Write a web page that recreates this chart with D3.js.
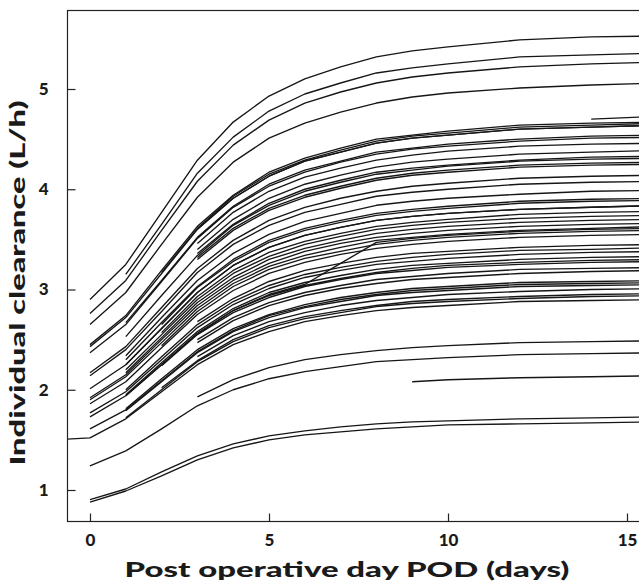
<!DOCTYPE html>
<html>
<head>
<meta charset="utf-8">
<script src="https://cdn.jsdelivr.net/npm/d3@7"></script>
<style>
  html, body { margin: 0; padding: 0; background: #fff; }
  svg { display: block; }
  text { font-family: Lato, "Open Sans", "DejaVu Sans", sans-serif; font-weight: 900; fill: #1a1a1a; }
</style>
</head>
<body>
<svg id="chart" width="639" height="584"></svg>
<script>
// Observation days (POD) shared by every subject profile
const days = [-1, 0, 1, 2, 3, 4, 5, 6, 7, 8, 9, 10, 12, 14, 16];

// Individual clearance (L/h), each row starts at the subject's first observed day
const fromDayMinus1 = [
  [1.50, 1.52, 1.71, 1.98, 2.25, 2.45, 2.58, 2.68, 2.74, 2.79, 2.82, 2.84, 2.88, 2.89, 2.90]
];

const fromDay0 = [
  [2.90, 3.25, 3.77, 4.29, 4.67, 4.93, 5.10, 5.22, 5.32, 5.38, 5.42, 5.49, 5.52, 5.53],
  [2.76, 3.09, 3.59, 4.08, 4.44, 4.69, 4.86, 4.97, 5.06, 5.12, 5.16, 5.22, 5.25, 5.27],
  [2.65, 2.97, 3.45, 3.92, 4.27, 4.51, 4.66, 4.77, 4.86, 4.92, 4.96, 5.01, 5.04, 5.06],
  [2.45, 2.74, 3.19, 3.63, 3.94, 4.17, 4.31, 4.41, 4.50, 4.54, 4.58, 4.64, 4.66, 4.67],
  [2.43, 2.72, 3.16, 3.60, 3.91, 4.13, 4.28, 4.37, 4.46, 4.51, 4.54, 4.60, 4.62, 4.64],
  [2.37, 2.65, 3.08, 3.51, 3.82, 4.03, 4.17, 4.27, 4.35, 4.40, 4.43, 4.48, 4.51, 4.52],
  [2.17, 2.43, 2.82, 3.21, 3.49, 3.69, 3.82, 3.91, 3.98, 4.03, 4.06, 4.11, 4.13, 4.14],
  [2.14, 2.40, 2.78, 3.17, 3.45, 3.64, 3.77, 3.85, 3.93, 3.97, 4.00, 4.05, 4.07, 4.08],
  [2.01, 2.25, 2.61, 2.97, 3.24, 3.42, 3.54, 3.62, 3.69, 3.73, 3.76, 3.80, 3.82, 3.84],
  [1.92, 2.15, 2.50, 2.84, 3.09, 3.26, 3.38, 3.46, 3.52, 3.56, 3.59, 3.63, 3.65, 3.66],
  [1.90, 2.13, 2.47, 2.81, 3.06, 3.23, 3.34, 3.42, 3.49, 3.52, 3.55, 3.59, 3.61, 3.63],
  [1.86, 2.08, 2.42, 2.75, 2.99, 3.16, 3.27, 3.35, 3.41, 3.45, 3.48, 3.52, 3.54, 3.55],
  [1.77, 1.98, 2.30, 2.62, 2.85, 3.01, 3.12, 3.19, 3.25, 3.28, 3.31, 3.35, 3.37, 3.38],
  [1.73, 1.94, 2.25, 2.56, 2.79, 2.94, 3.04, 3.11, 3.17, 3.21, 3.24, 3.27, 3.29, 3.30],
  [1.61, 1.80, 2.09, 2.38, 2.59, 2.74, 2.83, 2.90, 2.95, 2.99, 3.01, 3.05, 3.06, 3.07],
  [1.24, 1.39, 1.61, 1.84, 2.00, 2.11, 2.18, 2.23, 2.28, 2.30, 2.32, 2.35, 2.36, 2.37],
  [0.905, 1.01, 1.18, 1.34, 1.46, 1.54, 1.59, 1.63, 1.66, 1.68, 1.69, 1.71, 1.72, 1.73],
  [0.88, 0.99, 1.14, 1.30, 1.42, 1.50, 1.55, 1.58, 1.61, 1.63, 1.65, 1.66, 1.67, 1.68]
];

const fromDay1 = [
  [3.15, 3.65, 4.16, 4.52, 4.78, 4.95, 5.06, 5.16, 5.21, 5.25, 5.32, 5.34, 5.36],
  [2.67, 3.09, 3.52, 3.83, 4.05, 4.19, 4.28, 4.37, 4.41, 4.45, 4.50, 4.53, 4.54],
  [2.53, 2.94, 3.34, 3.64, 3.84, 3.98, 4.07, 4.15, 4.19, 4.23, 4.28, 4.30, 4.31],
  [2.34, 2.72, 3.09, 3.36, 3.55, 3.68, 3.76, 3.84, 3.88, 3.91, 3.95, 3.98, 3.99],
  [2.30, 2.67, 3.03, 3.30, 3.49, 3.61, 3.69, 3.76, 3.80, 3.83, 3.88, 3.90, 3.91],
  [2.25, 2.61, 2.97, 3.24, 3.42, 3.54, 3.62, 3.69, 3.73, 3.76, 3.80, 3.82, 3.84],
  [2.20, 2.55, 2.90, 3.16, 3.33, 3.45, 3.53, 3.60, 3.64, 3.67, 3.71, 3.73, 3.74],
  [2.17, 2.52, 2.87, 3.12, 3.30, 3.41, 3.49, 3.56, 3.60, 3.63, 3.67, 3.69, 3.70],
  [2.00, 2.33, 2.65, 2.88, 3.04, 3.15, 3.22, 3.28, 3.32, 3.35, 3.39, 3.40, 3.42],
  [1.95, 2.27, 2.58, 2.81, 2.97, 3.07, 3.14, 3.20, 3.24, 3.26, 3.30, 3.32, 3.33],
  [1.81, 2.11, 2.40, 2.61, 2.75, 2.85, 2.92, 2.97, 3.01, 3.03, 3.07, 3.08, 3.09],
  [1.79, 2.08, 2.37, 2.58, 2.72, 2.82, 2.88, 2.94, 2.97, 2.99, 3.03, 3.04, 3.05],
  [1.72, 2.00, 2.28, 2.48, 2.62, 2.71, 2.77, 2.83, 2.86, 2.88, 2.91, 2.93, 2.94],
  [1.94, 2.25, 2.56, 2.79, 2.95, 3.05, 3.26, 3.47, 3.51, 3.54, 3.58, 3.60, 3.61]
];

const fromDay2 = [
  [3.17, 3.61, 3.93, 4.15, 4.29, 4.39, 4.48, 4.53, 4.56, 4.62, 4.64, 4.66],
  [2.65, 3.02, 3.28, 3.47, 3.59, 3.67, 3.74, 3.78, 3.81, 3.86, 3.88, 3.89],
  [2.57, 2.93, 3.19, 3.37, 3.48, 3.56, 3.63, 3.67, 3.70, 3.75, 3.77, 3.78],
  [2.44, 2.78, 3.03, 3.20, 3.31, 3.38, 3.45, 3.49, 3.52, 3.56, 3.58, 3.59],
  [2.24, 2.55, 2.77, 2.92, 3.03, 3.10, 3.16, 3.19, 3.22, 3.25, 3.27, 3.28],
  [2.02, 2.29, 2.50, 2.64, 2.73, 2.79, 2.84, 2.88, 2.90, 2.93, 2.95, 2.96]
];

const fromDay3 = [
  [3.60, 3.91, 4.13, 4.28, 4.37, 4.46, 4.51, 4.54, 4.60, 4.62, 4.64],
  [3.46, 3.77, 3.98, 4.12, 4.21, 4.29, 4.34, 4.38, 4.43, 4.45, 4.46],
  [3.40, 3.70, 3.91, 4.05, 4.14, 4.22, 4.27, 4.30, 4.35, 4.37, 4.39],
  [3.36, 3.65, 3.86, 4.00, 4.09, 4.17, 4.21, 4.24, 4.29, 4.32, 4.33],
  [3.32, 3.61, 3.81, 3.94, 4.03, 4.11, 4.16, 4.19, 4.24, 4.26, 4.27],
  [3.30, 3.59, 3.79, 3.92, 4.01, 4.09, 4.14, 4.17, 4.22, 4.24, 4.25],
  [2.68, 2.91, 3.08, 3.19, 3.26, 3.32, 3.36, 3.38, 3.42, 3.44, 3.45],
  [2.50, 2.72, 2.87, 2.97, 3.04, 3.10, 3.13, 3.16, 3.20, 3.21, 3.22],
  [2.47, 2.69, 2.84, 2.94, 3.01, 3.06, 3.10, 3.12, 3.16, 3.18, 3.19],
  [2.33, 2.54, 2.68, 2.77, 2.84, 2.89, 2.92, 2.95, 2.98, 3.00, 3.01],
  [1.93, 2.10, 2.22, 2.30, 2.35, 2.39, 2.42, 2.44, 2.47, 2.48, 2.49]
];

const fromDay9 = [
  [2.08, 2.10, 2.12, 2.13, 2.14]
];

const fromDay14 = [
  [4.70, 4.73]
];

const xTicks = [0, 5, 10, 15];
const yTicks = [1, 2, 3, 4, 5];

const groups = [
  { start: -1, rows: fromDayMinus1 },
  { start: 0, rows: fromDay0 },
  { start: 1, rows: fromDay1 },
  { start: 2, rows: fromDay2 },
  { start: 3, rows: fromDay3 },
  { start: 9, rows: fromDay9 },
  { start: 14, rows: fromDay14 }
];

const profiles = groups.flatMap(g => {
  const i0 = days.indexOf(g.start);
  return g.rows.map(r => r.map((v, i) => ({ day: days[i0 + i], cl: v })));
});

const svg = d3.select("#chart");
const plot = { left: 67, top: 10, right: 648, bottom: 521 };

const x = d3.scaleLinear().domain([0, 15]).range([90, 627]);
const y = d3.scaleLinear().domain([1, 5]).range([490, 89]);

svg.append("defs").append("clipPath").attr("id", "plot-clip")
  .append("rect")
  .attr("x", plot.left).attr("y", plot.top)
  .attr("width", plot.right - plot.left).attr("height", plot.bottom - plot.top);

const line = d3.line().x(d => x(d.day)).y(d => y(d.cl));

svg.append("g")
  .attr("clip-path", "url(#plot-clip)")
  .selectAll("path")
  .data(profiles)
  .join("path")
  .attr("d", line)
  .attr("fill", "none")
  .attr("stroke", "#161616")
  .attr("stroke-width", 1.35)
  .attr("stroke-linejoin", "round");

// Frame
svg.append("rect")
  .attr("x", plot.left + 0.5).attr("y", plot.top + 0.5)
  .attr("width", plot.right - plot.left).attr("height", plot.bottom - plot.top)
  .attr("fill", "none").attr("stroke", "#222").attr("stroke-width", 1.2);

// Axes with inward ticks
const xAxis = svg.append("g")
  .attr("transform", `translate(0,${plot.bottom + 0.5})`)
  .call(d3.axisBottom(x).tickValues(xTicks).tickSize(-8).tickPadding(12).tickFormat(d3.format("d")));
const yAxis = svg.append("g")
  .attr("transform", `translate(${plot.left + 0.5},0)`)
  .call(d3.axisLeft(y).tickValues(yTicks).tickSize(-8).tickPadding(19).tickFormat(d3.format("d")));

[xAxis, yAxis].forEach(a => {
  a.select(".domain").remove();
  a.selectAll(".tick line").attr("stroke", "#222").attr("stroke-width", 1.2);
  a.selectAll(".tick text")
    .attr("fill", "#1a1a1a")
    .style("font-family", "Lato, 'Open Sans', sans-serif")
    .style("font-weight", "900")
    .style("font-size", "17px");
});

// Axis titles
svg.append("text")
  .attr("x", 347).attr("y", 577)
  .attr("text-anchor", "middle")
  .attr("textLength", 445).attr("lengthAdjust", "spacingAndGlyphs")
  .style("font-size", "21px")
  .text("Post operative day POD (days)");

svg.append("text")
  .attr("transform", "translate(25,283) rotate(-90)")
  .attr("text-anchor", "middle")
  .attr("textLength", 365).attr("lengthAdjust", "spacingAndGlyphs")
  .style("font-size", "21px")
  .text("Individual clearance (L/h)");
</script>
</body>
</html>
